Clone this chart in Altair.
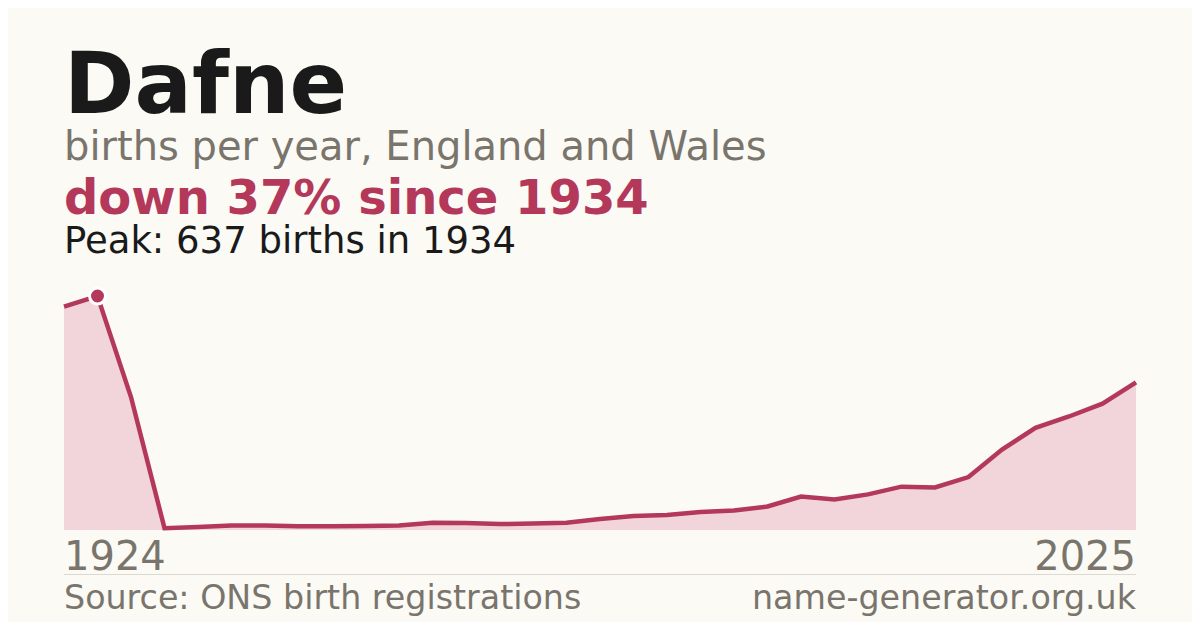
import altair as alt
import pandas as pd

years = [1924, 1934, 1944, 1954] + list(range(1997, 2026))
births = [608, 637, 362, 5, 8, 12, 12, 10, 10, 11, 12, 20, 19, 16, 18, 20,
          30, 38, 41, 49, 53, 64, 91, 83, 97, 118, 116, 144, 219, 278, 309, 344, 402]

name = "Dafne"
subtitle = "births per year, England and Wales"
change_text = "down 37% since 1934"
peak_text = "Peak: 637 births in 1934"
source_text = "Source: ONS birth registrations"
site_text = "name-generator.org.uk"

RED = "#B3385A"
FILL = "#F2D5DB"
GREY = "#7A756C"
DARK = "#1A1A1A"
BG = "#FBFAF5"
FONT = "DejaVu Sans"

df = pd.DataFrame({"year": years, "births": births})
peak_df = df[df["births"] == df["births"].max()]
ends_df = pd.DataFrame({"year": [years[0], years[-1]], "label": [str(years[0]), str(years[-1])]})

W, H = 1072, 234
x = alt.X("year:O", scale=alt.Scale(padding=0), axis=None)
y = alt.Y("births:Q", scale=alt.Scale(domain=[0, max(births)], nice=False, zero=True), axis=None)

base = alt.Chart(df)
area = base.mark_area(color=FILL).encode(x=x, y=y)
line = base.mark_line(color=RED, strokeWidth=4.5).encode(x=x, y=y)
peak = alt.Chart(peak_df).mark_point(filled=True, fill=RED, stroke="white", strokeWidth=3,
                                     size=254, opacity=1).encode(x=x, y=y)

def txt(text, px, py, size, color, weight="normal", align="left"):
    return alt.Chart(alt.Data(values=[{}])).mark_text(
        text=text, font=FONT, fontSize=size, color=color, fontWeight=weight,
        align=align, baseline="alphabetic"
    ).encode(x=alt.value(px - 64), y=alt.value(py - 296))

left_lbl = alt.Chart(ends_df.iloc[[0]]).mark_text(
    font=FONT, fontSize=40, color=GREY, align="left", baseline="alphabetic"
).encode(x=x, y=alt.value(570 - 296), text="label:N")
right_lbl = alt.Chart(ends_df.iloc[[1]]).mark_text(
    font=FONT, fontSize=40, color=GREY, align="right", baseline="alphabetic"
).encode(x=x, y=alt.value(570 - 296), text="label:N")

sep = alt.Chart(alt.Data(values=[{}])).mark_rule(color="#DDD9D1", strokeWidth=1).encode(
    x=alt.value(0), x2=alt.value(W), y=alt.value(574.5 - 296))

chart = alt.layer(
    area, line, peak,
    txt(name, 64, 113, 85, DARK, "bold"),
    txt(subtitle, 64, 160, 40, GREY),
    txt(change_text, 64, 214, 48, RED, "bold"),
    txt(peak_text, 64, 253, 37, DARK),
    left_lbl, right_lbl, sep,
    txt(source_text, 64, 609, 33.3, GREY),
    txt(site_text, 1136, 609, 33.3, GREY, align="right"),
).properties(
    width=W, height=H,
    autosize=alt.AutoSizeParams(type="none"),
    padding={"left": 56, "top": 288, "right": 56, "bottom": 92},
    background=BG,
).configure_view(stroke=None)

chart.save("out.html", embed_options={"renderer": "svg", "actions": False})
